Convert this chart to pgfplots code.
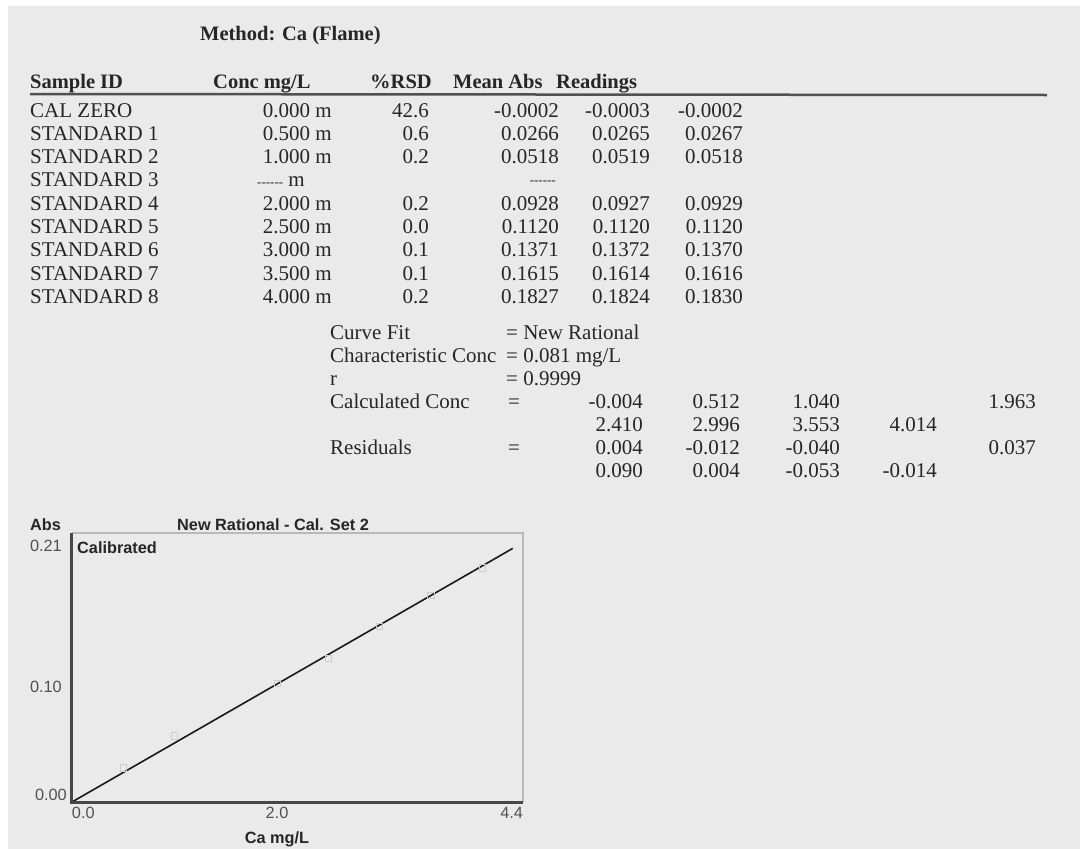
\documentclass[border=0pt]{standalone}
\usepackage{pgfplots}
\pgfplotsset{compat=1.18}
\usepackage{fontspec}
\setmainfont{Liberation Serif}
\newfontfamily\arial{Liberation Sans}
\definecolor{bg}{HTML}{EAEAEA}
\definecolor{ink}{HTML}{262626}
\definecolor{gink}{HTML}{505050}
\tikzset{
  tx/.style={inner sep=0pt, font=\fontsize{21}{21}\selectfont, text=ink},
  tb/.style={inner sep=0pt, font=\bfseries\fontsize{20.5}{21}\selectfont, text=ink},
  ta/.style={inner sep=0pt, font=\arial\bfseries\fontsize{16.3}{16}\selectfont, text=ink},
}
\newcommand\dashes{{\fontsize{13}{13}\selectfont -{}-{}-{}-{}-{}-}}
\begin{document}
\begin{tikzpicture}
\begin{scope}[x=1pt,y=-1pt]
\fill[white] (0,0) rectangle (1080,849);
\fill[bg] (8,6) rectangle (1080,849);
% heading
\node[tb, anchor=base west] at (200,40) {Method: Ca (Flame)};
\node[tb, anchor=base west] at (30,88) {Sample ID};
\node[tb, anchor=base west] at (213,88) {Conc mg/L};
\node[tb, anchor=base west] at (370,88) {\%RSD};
\node[tb, anchor=base west] at (453,88) {Mean Abs};
\node[tb, anchor=base west] at (556,88) {Readings};
\draw[ink!80, line width=2.5pt] (30,94) -- (1047,95);
% rows
\foreach \y/\n/\c/\r/\m/\a/\b in {
  117/CAL ZERO/0.000/42.6/-0.0002/-0.0003/-0.0002,
  140.3/STANDARD 1/0.500/0.6/0.0266/0.0265/0.0267,
  163.6/STANDARD 2/1.000/0.2/0.0518/0.0519/0.0518,
  210.2/STANDARD 4/2.000/0.2/0.0928/0.0927/0.0929,
  233.5/STANDARD 5/2.500/0.0/0.1120/0.1120/0.1120,
  256.8/STANDARD 6/3.000/0.1/0.1371/0.1372/0.1370,
  280.1/STANDARD 7/3.500/0.1/0.1615/0.1614/0.1616,
  303.4/STANDARD 8/4.000/0.2/0.1827/0.1824/0.1830}{
  \node[tx, anchor=base west] at (30,\y) {\n};
  \node[tx, anchor=base east] at (332,\y) {\c\ m};
  \node[tx, anchor=base east] at (429,\y) {\r};
  \node[tx, anchor=base east] at (559,\y) {\m};
  \node[tx, anchor=base east] at (650,\y) {\a};
  \node[tx, anchor=base east] at (743,\y) {\b};
}
\node[tx, anchor=base west] at (30,186.9) {STANDARD 3};
\node[tx, anchor=base west] at (257,186.9) {\dashes\ m};
\node[tx, anchor=base east] at (556,184) {\dashes};
% fit block
\node[tx, anchor=base west] at (330,339) {Curve Fit};
\node[tx, anchor=base west] at (506,339) {= New Rational};
\node[tx, anchor=base west] at (330,362) {Characteristic Conc};
\node[tx, anchor=base west] at (506,362) {= 0.081 mg/L};
\node[tx, anchor=base west] at (330,385) {r};
\node[tx, anchor=base west] at (506,385) {= 0.9999};
\node[tx, anchor=base west] at (330,408) {Calculated Conc};
\node[tx, anchor=base west] at (508,408) {=};
\node[tx, anchor=base west] at (330,454) {Residuals};
\node[tx, anchor=base west] at (508,454) {=};
\foreach \y/\p/\q/\s/\t/\u in {
  408/-0.004/0.512/1.040//1.963,
  431/2.410/2.996/3.553/4.014/,
  454/0.004/-0.012/-0.040//0.037,
  477/0.090/0.004/-0.053/-0.014/}{
  \node[tx, anchor=base east] at (643,\y) {\p};
  \node[tx, anchor=base east] at (740,\y) {\q};
  \node[tx, anchor=base east] at (840,\y) {\s};
  \node[tx, anchor=base east] at (937,\y) {\t};
  \node[tx, anchor=base east] at (1036,\y) {\u};
}
% chart headings
\node[ta, anchor=base west] at (30,530) {Abs};
\node[ta, anchor=base west] at (177,530) {New Rational - Cal. Set 2};
\node[ta, anchor=base west] at (77,553) {Calibrated};
\end{scope}

\begin{axis}[
  at={(72pt,-802pt)}, anchor=south west,
  scale only axis, width=451pt, height=269pt,
  xmin=0, xmax=4.4, ymin=0, ymax=0.21,
  axis line style={draw=none},
  clip=false,
  major tick length=0pt,
  xtick={0,2,4.4},
  xticklabels={\makebox[0pt][l]{0.0},2.0,\makebox[0pt][r]{4.4}},
  ytick={0}, yticklabels={0.00},
  extra y ticks={0.10,0.21}, extra y tick labels={0.10,0.21},
  every tick label/.append style={font=\arial\fontsize{16.3}{16}\selectfont, text=gink, inner sep=0pt},
  xticklabel style={anchor=north, yshift=-5pt},
  yticklabel style={anchor=south east, xshift=-5pt, yshift=1pt},
  extra y tick style={yticklabel style={anchor=north east, xshift=-5pt, yshift=-8pt}},
  xlabel={Ca mg/L},
  xlabel style={at={(axis description cs:0.4545,0)}, anchor=north, inner sep=0pt, yshift=-29pt, font=\arial\bfseries\fontsize{16.3}{16}\selectfont, text=ink},
]
\addplot[only marks, mark=square, mark size=3.2pt, draw=gray!40, line width=0.6pt]
  coordinates {(0.5,0.0266) (1.0,0.0518) (2.0,0.0928) (2.5,0.1120) (3.0,0.1371) (3.5,0.1615) (4.0,0.1827)};
\addplot[black!90, line width=1.6pt] coordinates {(0,0) (4.3,0.198)};
\draw[gray!55, line width=1.2pt] (rel axis cs:0,1) -- (rel axis cs:1,1) -- (rel axis cs:1,0);
\draw[ink!85, line width=3pt] (rel axis cs:0,1) -- (rel axis cs:0,0) -- (rel axis cs:1,0);
\end{axis}
\pgfresetboundingbox
\path (0pt,0pt) rectangle (1080pt,-849pt);
\end{tikzpicture}
\end{document}
